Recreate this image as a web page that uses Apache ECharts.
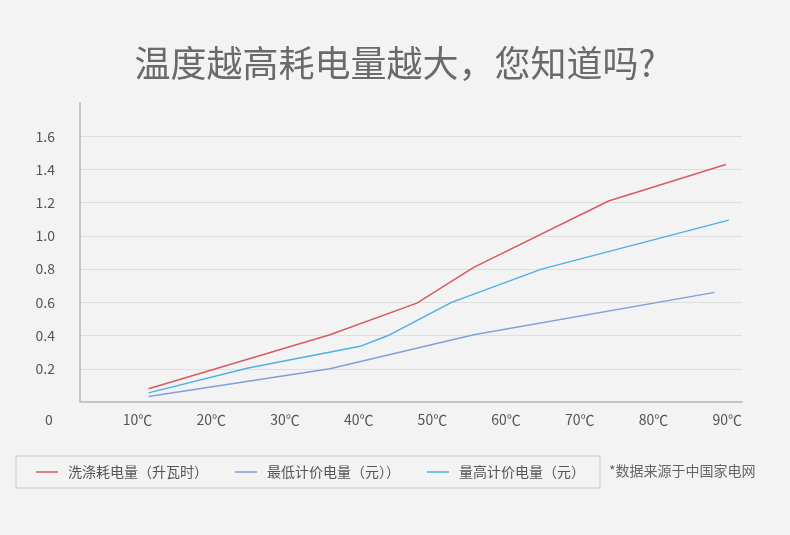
<!DOCTYPE html>
<html>
<head>
<meta charset="utf-8">
<script src="https://cdn.jsdelivr.net/npm/echarts@6/dist/echarts.min.js"></script>
<style>
html,body{margin:0;padding:0;background:#f3f3f3;}
#chart{width:790px;height:535px;}
</style>
</head>
<body>
<div id="chart"></div>
<script>
// Data
const titleText = '温度越高耗电量越大，您知道吗?';
const seriesNames = ['洗涤耗电量（升瓦时）', '最低计价电量（元））', '量高计价电量（元）'];
const xTickValues = [10, 20, 30, 40, 50, 60, 70, 80, 90];
const yTickValues = [0.2, 0.4, 0.6, 0.8, 1.0, 1.2, 1.4, 1.6];

const washTemps  = [11.5, 36.1, 47.9, 55.6, 73.9, 89.8];
const washValues = [0.08, 0.405, 0.595, 0.81, 1.21, 1.43];

const lowTemps   = [11.5, 36.1, 55.6, 88.3];
const lowValues  = [0.033, 0.20, 0.405, 0.66];

const highTemps  = [11.5, 25.0, 40.2, 44.0, 52.6, 64.8, 90.2];
const highValues = [0.055, 0.205, 0.335, 0.40, 0.60, 0.80, 1.095];

const sourceNote = '*数据来源于中国家电网';

function pairs(xs, ys) { return xs.map((x, i) => [x, ys[i]]); }

const FONT = '"Noto Sans CJK SC", "Noto Sans", sans-serif';
const chart = echarts.init(document.getElementById('chart'));
chart.setOption({
  backgroundColor: '#f3f3f3',
  animation: false,
  textStyle: { fontFamily: FONT },
  title: {
    text: titleText,
    left: 'center',
    top: 40,
    textStyle: { fontSize: 36, fontWeight: 'normal', color: '#6a6a6a', fontFamily: FONT }
  },
  grid: { left: 80, right: 48, top: 103, bottom: 133, containLabel: false },
  xAxis: {
    type: 'value',
    min: 2.2,
    max: 92,
    axisLine: { show: true, lineStyle: { color: '#c6c6c6', width: 2 } },
    axisTick: { show: false },
    splitLine: { show: false },
    axisLabel: {
      customValues: xTickValues,
      formatter: v => v + '℃',
      color: '#555',
      fontSize: 14,
      margin: 11,
      fontFamily: FONT
    }
  },
  yAxis: {
    type: 'value',
    min: 0,
    max: 1.8,
    interval: 0.2,
    axisLine: { show: true, lineStyle: { color: '#c6c6c6', width: 2 } },
    axisTick: { show: false },
    splitLine: { show: true, showMaxLine: false, lineStyle: { color: '#dedede', width: 1 } },
    axisLabel: {
      customValues: yTickValues,
      formatter: v => v.toFixed(1),
      color: '#555',
      fontSize: 14,
      margin: 25,
      fontFamily: FONT
    }
  },
  legend: {
    left: 16,
    top: 456,
    orient: 'horizontal',
    data: seriesNames,
    icon: 'rect',
    itemWidth: 22,
    itemHeight: 1.5,
    itemGap: 27,
    padding: [9, 15, 9, 20],
    borderColor: '#c8c8c8',
    borderWidth: 1,
    textStyle: { fontSize: 14, color: '#555', padding: [0, 0, 0, 5], fontFamily: FONT }
  },
  graphic: [
    { type: 'text', left: 45, top: 413, style: { text: '0', fontSize: 14, fill: '#555', fontFamily: FONT } },
    { type: 'text', left: 609, top: 464, style: { text: sourceNote, fontSize: 14, fill: '#666', fontFamily: FONT } }
  ],
  series: [
    { name: seriesNames[0], type: 'line', data: pairs(washTemps, washValues), symbol: 'none',
      lineStyle: { color: '#d85a63', width: 1.5 }, itemStyle: { color: '#d85a63' } },
    { name: seriesNames[1], type: 'line', data: pairs(lowTemps, lowValues), symbol: 'none',
      lineStyle: { color: '#7ea1dc', width: 1.5 }, itemStyle: { color: '#7ea1dc' } },
    { name: seriesNames[2], type: 'line', data: pairs(highTemps, highValues), symbol: 'none',
      lineStyle: { color: '#4eb0e6', width: 1.5 }, itemStyle: { color: '#4eb0e6' } }
  ]
});
</script>
</body>
</html>
